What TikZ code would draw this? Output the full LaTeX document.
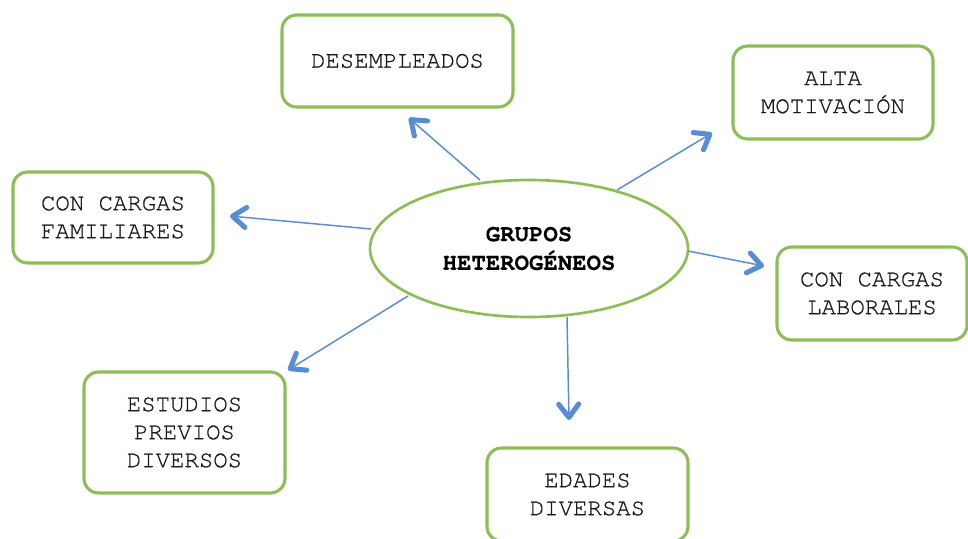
\documentclass[tikz,border=0pt]{standalone}
\usepackage{fontspec}
\setmainfont{TeX Gyre Cursor}
\newfontfamily\boxfont[FakeBold=0.6]{TeX Gyre Cursor}
\newfontfamily\hubfont[FakeBold=0.5]{TeX Gyre Cursor Bold}
\usetikzlibrary{arrows.meta,shapes.geometric}
\definecolor{boxgreen}{RGB}{141,190,86}
\definecolor{arrowblue}{RGB}{88,140,212}
\tikzset{
  box/.style={draw=boxgreen, line width=2.3pt, rounded corners=11pt, rectangle,
    align=center, inner sep=0pt, text=black!90,
    font=\boxfont\fontsize{18pt}{21pt}\selectfont},
  hub/.style={draw=boxgreen, line width=2pt, ellipse, inner sep=0pt,
    align=center, font=\hubfont\fontsize{18pt}{21.5pt}\selectfont},
  conn/.style={draw=arrowblue, line width=1.1pt,
    -{Straight Barb[length=10pt,width=15pt,line width=3.8pt,line join=round,line cap=round]}}
}
\begin{document}
\begin{tikzpicture}[x=0.75pt,y=-0.75pt]
\useasboundingbox (0,0) rectangle (968,539);
\clip (0,0) rectangle (968,539);
\fill[white] (0,0) rectangle (968,539);

\node[hub, minimum width=318*0.75pt, minimum height=137*0.75pt] (c) at (529,248.5) {GRUPOS\\HETEROGÉNEOS};

\node[box, minimum width=231*0.75pt, minimum height=92*0.75pt] (des) at (397.5,61) {DESEMPLEADOS};
\node[box, minimum width=200*0.75pt, minimum height=93*0.75pt] (alta) at (833,92.5) {ALTA\\MOTIVACIÓN};
\node[box, minimum width=200*0.75pt, minimum height=91*0.75pt] (fam) at (113,217.5) {CON CARGAS\\FAMILIARES};
\node[box, minimum width=190*0.75pt, minimum height=93*0.75pt] (lab) at (872,293.5) {CON CARGAS\\LABORALES};
\node[box, minimum width=201*0.75pt, minimum height=121*0.75pt] (est) at (184.5,432.5) {ESTUDIOS\\PREVIOS\\DIVERSOS};
\node[box, minimum width=201*0.75pt, minimum height=93*0.75pt] (eda) at (587.5,494.5) {EDADES\\DIVERSAS};

\coordinate (s1) at (480,180);  \coordinate (t1) at (409,118);
\coordinate (s2) at (617,190);  \coordinate (t2) at (712,133);
\coordinate (s3) at (371,229);  \coordinate (t3) at (230,216);
\coordinate (s4) at (688,251);  \coordinate (t4) at (764,266);
\coordinate (s5) at (408,296);  \coordinate (t5) at (288,370);
\coordinate (s6) at (567,317);  \coordinate (t6) at (569,420);

\draw[conn] (s1) -- (t1);
\draw[conn] (s2) -- (t2);
\draw[conn] (s3) -- (t3);
\draw[conn] (s4) -- (t4);
\draw[conn] (s5) -- (t5);
\draw[conn] (s6) -- (t6);
\end{tikzpicture}
\end{document}
